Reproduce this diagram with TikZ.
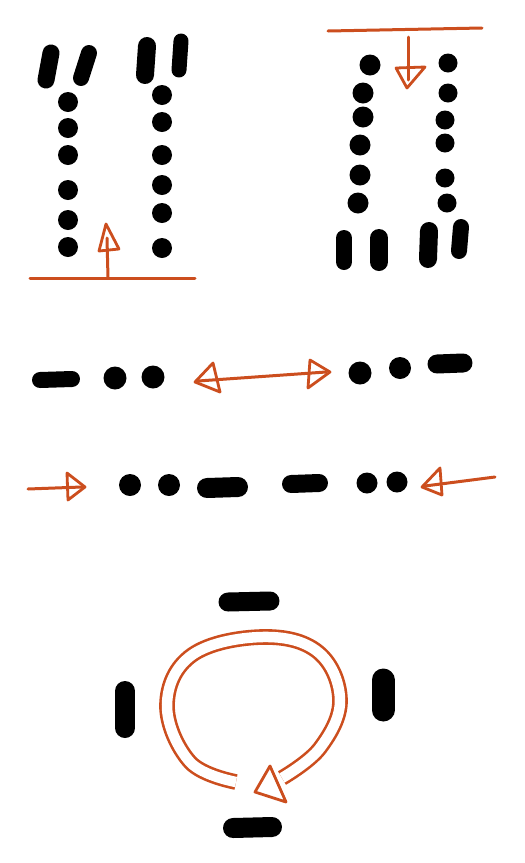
\documentclass[tikz,border=0pt]{standalone}
\usetikzlibrary{arrows.meta}
\definecolor{pencil}{RGB}{204,78,30}
\tikzset{
  ink/.style={line width=#1, line cap=round, draw=black},
  dot/.style={fill=black},
  pen/.style={draw=pencil, line width=3pt, line cap=round, line join=round},
  head/.style={draw=pencil, line width=2.8pt, line join=round},
  fillhead/.style={head, fill=white},
}
\begin{document}
\begin{tikzpicture}[x=1pt,y=-1pt]
\useasboundingbox[fill=white] (0,0) rectangle (525,863);
% ---------- top-left group ----------
\draw[ink=17pt] (51,53) -- (46,80);
\draw[ink=16pt] (89,53) -- (81,78);
\draw[ink=18pt] (147,46) -- (145,75);
\draw[ink=15pt] (181,41) -- (179,70);
\foreach \y in {102,128,155,190,220,247} \fill[dot] (68,\y) circle (10);
\foreach \x/\y in {162/95,162/122,162/155,162/185,162/213,162/248} \fill[dot] (\x,\y) circle (10);
\draw[pen] (30,278) -- (195,278);
\draw[pen] (108,278) -- (107,238);
\draw[head] (106,224) -- (99,251) -- (119,249) -- cycle;
% ---------- top-right group ----------
\draw[pen] (328,31) -- (482,28);
\draw[pen] (408,37) -- (408,80);
\draw[head] (396,68) -- (425,67) -- (407,88) -- cycle;
\foreach \x/\y in {370/65,363/93,363/117,360/145,360/175,358/203} \fill[dot] (\x,\y) circle (10.5);
\foreach \x/\y in {448/63,448/93,445/120,445/143,445/178,447/203} \fill[dot] (\x,\y) circle (9.5);
\draw[ink=16pt] (344,238) -- (344,262);
\draw[ink=18pt] (379,238) -- (379,262);
\draw[ink=18pt] (429,231) -- (428,259);
\draw[ink=16pt] (461,227) -- (459,251);
% ---------- row 1 ----------
\draw[ink=16pt] (40,380) -- (72,379);
\fill[dot] (115,378) circle (11.5);
\fill[dot] (153,377) circle (11.5);
\draw[pen] (198,381) -- (326,372);
\draw[head] (195,382) -- (213,363) -- (220,392) -- cycle;
\draw[head] (330,372) -- (310,360) -- (308,388) -- cycle;
\fill[dot] (360,373) circle (11.5);
\fill[dot] (400,368) circle (11);
\draw[ink=19pt] (437,364) -- (463,363);
% ---------- row 2 ----------
\draw[pen] (28,489) -- (82,487);
\draw[head] (85,487) -- (67,473) -- (68,500) -- cycle;
\fill[dot] (130,485) circle (11);
\fill[dot] (169,485) circle (11);
\draw[ink=20pt] (207,488) -- (238,487);
\draw[ink=18pt] (291,484) -- (319,483);
\fill[dot] (367,483) circle (10.5);
\fill[dot] (397,482) circle (10.5);
\draw[pen] (425,486) -- (495,477);
\draw[head] (422,487) -- (440,468) -- (442,495) -- cycle;
% ---------- bottom: rotation ----------
\draw[ink=19pt] (228,602) -- (270,601);
\draw[ink=20pt] (233,828) -- (272,827);
\draw[ink=20pt] (125,691) -- (125,728);
\draw[ink=23pt] (383,680) -- (383,710);
\draw[draw=pencil, line width=2.6pt, double=white, double distance=10.5pt]
  plot[smooth, tension=0.65] coordinates {(236,782) (190,762) (167,705) (192,655) (262,637) (318,652) (340,700) (320,748) (282,778)};
\draw[fillhead] (270,766) -- (255,792) -- (286,802) -- cycle;
\end{tikzpicture}
\end{document}
